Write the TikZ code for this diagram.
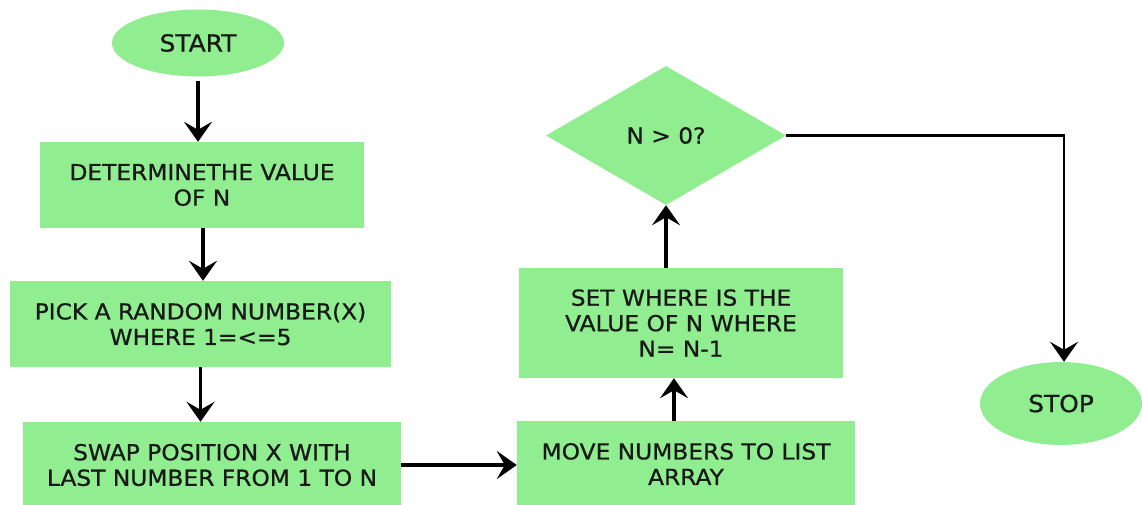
\documentclass[tikz,border=0pt]{standalone}
\usepackage{fontspec}
\setmainfont[FakeStretch=1.06,FakeBold=0.8]{DejaVu Sans}
\usetikzlibrary{shapes.geometric,arrows.meta}
\definecolor{boxgreen}{RGB}{144,238,144}
\definecolor{inkdark}{RGB}{25,25,25}
\begin{document}
\begin{tikzpicture}[x=1pt,y=-1pt,
  flowbox/.style={rectangle,fill=boxgreen,draw=none,inner sep=0pt,align=center,
    text=inkdark,font=\fontsize{22}{25.5}\selectfont},
  terminal/.style={ellipse,fill=boxgreen,draw=none,inner sep=0pt,
    text=inkdark,font=\fontsize{23.5}{27}\selectfont},
  decision/.style={diamond,fill=boxgreen,draw=none,inner sep=0pt,
    text=inkdark,font=\fontsize{22}{25}\selectfont},
  arr/.style={draw=black,line width=3.5pt,-{Stealth[length=20pt,width=28pt,inset=8pt]}}]
\useasboundingbox (0,0) rectangle (1142,504);

% terminals
\node[terminal,minimum width=172pt,minimum height=67pt] (start) at (198,43) {START};
\node[terminal,minimum width=162pt,minimum height=83pt] (stop) at (1061,403.5) {STOP};

% process boxes
\node[flowbox,minimum width=324pt,minimum height=86pt] (b1) at (202,185)
  {DETERMINETHE VALUE\\OF N};
\node[flowbox,minimum width=381pt,minimum height=86pt] (b2) at (200.5,324)
  {PICK A RANDOM NUMBER(X)\\WHERE 1=<=5};
\node[flowbox,minimum width=378pt,minimum height=86pt] (b3) at (212,465)
  {SWAP POSITION X WITH\\LAST NUMBER FROM 1 TO N};
\node[flowbox,minimum width=338pt,minimum height=86pt] (b4) at (686,464)
  {MOVE NUMBERS TO LIST\\ARRAY};
\node[flowbox,minimum width=324pt,minimum height=110pt] (b5) at (681,323)
  {SET WHERE IS THE\\VALUE OF N WHERE\\N= N-1};

% decision
\node[decision,minimum width=240pt,minimum height=139pt] (dia) at (666,135.5) {N > 0?};

% connectors
\draw[arr] ([yshift=-4pt]start.south) -- (start.south |- b1.north);
\draw[arr] ([xshift=1pt]b1.south) -- ([xshift=1pt]b1.south |- b2.north);
\draw[arr] (b2.south) -- (b2.south |- b3.north);
\draw[arr] (b3.east) -- (b3.east -| b4.west);
\draw[arr] ([xshift=-12pt]b4.north) -- ([xshift=-12pt]b4.north |- b5.south);
\draw[arr] (b5.north -| dia.south) -- (dia.south);
\draw[arr,line width=2.5pt] (dia.east) -| ([xshift=3pt]stop.north);
\end{tikzpicture}
\end{document}
